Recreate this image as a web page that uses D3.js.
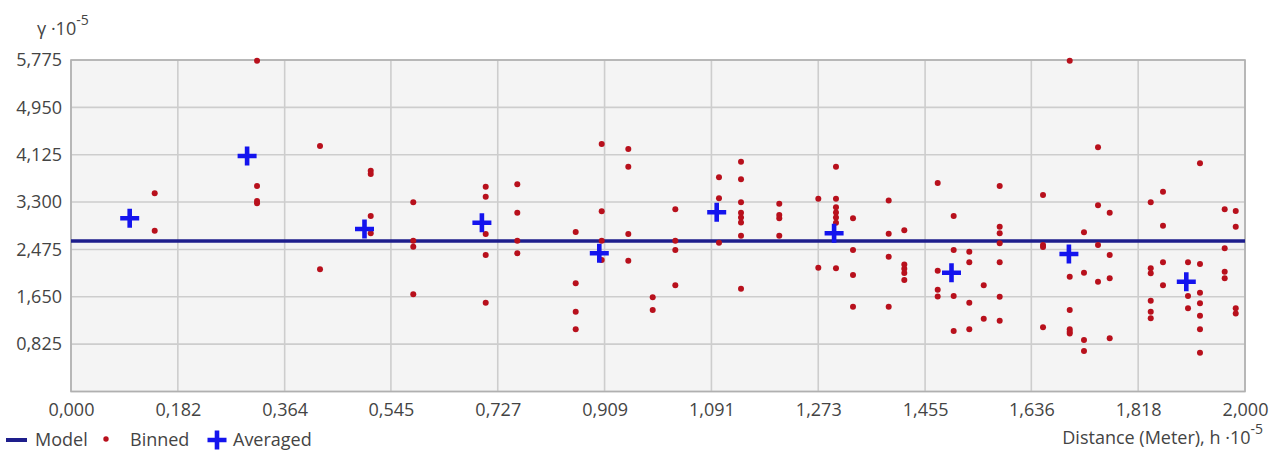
<!DOCTYPE html>
<html>
<head>
<meta charset="utf-8">
<script src="https://cdn.jsdelivr.net/npm/d3@7"></script>
<style>
  body { margin: 0; background: #fff; }
  text { font-family: "Open Sans", "DejaVu Sans", sans-serif; fill: #444; }
</style>
</head>
<body>
<div id="chart"></div>
<script>
// Data (values in units of 10^-5)
var xTicks = [0, 0.182, 0.364, 0.545, 0.727, 0.909, 1.091, 1.273, 1.455, 1.636, 1.818, 2.000];
var yTicks = [0, 0.825, 1.650, 2.475, 3.300, 4.125, 4.950, 5.775];
var model = 2.62;

var averagedX = [0.1, 0.3, 0.5, 0.7, 0.9, 1.1, 1.3, 1.5, 1.7, 1.9];
var averagedY = [3.017, 4.103, 2.831, 2.941, 2.408, 3.122, 2.756, 2.070, 2.395, 1.913];

var binned = [
  [0.1426, 3.453], [0.1426, 2.801],
  [0.3169, 5.763], [0.3169, 3.580], [0.3169, 3.279], [0.3169, 3.319],
  [0.4242, 4.277], [0.4242, 2.129],
  [0.5106, 3.847], [0.5106, 3.789], [0.5106, 3.057], [0.5106, 2.756],
  [0.5831, 3.296], [0.5831, 2.627], [0.5831, 2.523], [0.5831, 1.693],
  [0.7065, 3.568], [0.7065, 3.394], [0.7065, 2.744], [0.7065, 2.378], [0.7065, 1.547],
  [0.7603, 3.610], [0.7603, 3.115], [0.7603, 2.627], [0.7603, 2.408],
  [0.8598, 2.779], [0.8598, 1.885], [0.8598, 1.390], [0.8598, 1.084],
  [0.9041, 4.312], [0.9041, 3.139], [0.9041, 2.627], [0.9041, 2.291],
  [0.9494, 4.225], [0.9494, 3.916], [0.9494, 2.744], [0.9494, 2.279],
  [0.9910, 1.641], [0.9910, 1.420],
  [1.0295, 3.174], [1.0295, 2.627], [1.0295, 2.465], [1.0295, 1.850],
  [1.1039, 3.732], [1.1039, 3.366], [1.1039, 2.592],
  [1.1414, 4.003], [1.1414, 3.697], [1.1414, 3.296], [1.1414, 3.115], [1.1414, 3.031],
  [1.1414, 2.944], [1.1414, 2.714], [1.1414, 1.791],
  [1.2066, 3.272], [1.2066, 3.075], [1.2066, 3.017], [1.2066, 2.714],
  [1.2731, 3.359], [1.2731, 2.157],
  [1.3032, 3.916], [1.3032, 3.359], [1.3032, 3.209], [1.3032, 3.118], [1.3032, 3.031],
  [1.3032, 2.941], [1.3032, 2.146],
  [1.3322, 3.017], [1.3322, 2.465], [1.3322, 2.030], [1.3322, 1.477],
  [1.3930, 3.328], [1.3930, 2.749], [1.3930, 2.348], [1.3930, 1.477],
  [1.4196, 2.808], [1.4196, 2.213], [1.4196, 2.139], [1.4196, 2.064], [1.4196, 1.943],
  [1.4765, 3.632], [1.4765, 2.105], [1.4765, 1.774], [1.4765, 1.655],
  [1.5037, 3.057], [1.5037, 2.465], [1.5037, 1.664], [1.5037, 1.054],
  [1.5303, 2.436], [1.5303, 2.251], [1.5303, 1.547], [1.5303, 1.084],
  [1.5549, 1.850], [1.5549, 1.268],
  [1.5821, 3.580], [1.5821, 2.871], [1.5821, 2.756], [1.5821, 2.582], [1.5821, 2.251],
  [1.5821, 1.652], [1.5821, 1.233],
  [1.6559, 3.423], [1.6559, 2.552], [1.6559, 2.517], [1.6559, 1.118],
  [1.7014, 5.763], [1.7014, 2.000], [1.7014, 1.420], [1.7014, 1.084], [1.7014, 1.040], [1.7014, 1.010],
  [1.7257, 2.774], [1.7257, 2.070], [1.7257, 0.897], [1.7257, 0.706],
  [1.7496, 4.254], [1.7496, 3.244], [1.7496, 2.552], [1.7496, 1.913],
  [1.7695, 3.115], [1.7695, 2.378], [1.7695, 1.972], [1.7695, 0.927],
  [1.8394, 3.296], [1.8394, 2.146], [1.8394, 2.059], [1.8394, 1.582], [1.8394, 1.390], [1.8394, 1.275],
  [1.8603, 3.481], [1.8603, 2.889], [1.8603, 2.251], [1.8603, 1.850],
  [1.9029, 2.251], [1.9029, 1.664], [1.9029, 1.449],
  [1.9233, 3.976], [1.9233, 2.221], [1.9233, 1.721], [1.9233, 1.537], [1.9233, 1.321],
  [1.9233, 1.084], [1.9233, 0.676],
  [1.9654, 3.174], [1.9654, 2.495], [1.9654, 2.087], [1.9654, 1.972],
  [1.9842, 3.145], [1.9842, 2.871], [1.9842, 1.449], [1.9842, 1.359]
];

var width = 1272;
var height = 451;
var margin = { left: 71, right: 27, top: 60, bottom: 60 };
var fontSize = "18px";

var svg = d3.select("#chart")
            .append("svg")
            .attr("width", width)
            .attr("height", height);

var x = d3.scaleLinear().domain([0, 2]).range([margin.left, width - margin.right]);
var y = d3.scaleLinear().domain([0, 5.775]).range([height - margin.bottom + 0.5, margin.top]);

var fmt = function (d) { return d3.format(".3f")(d).replace(".", ","); };

// plot background
svg.append("rect")
   .attr("x", x(0))
   .attr("y", y(5.775))
   .attr("width", x(2) - x(0))
   .attr("height", y(0) - y(5.775))
   .attr("fill", "#f4f4f4");

// grid
svg.append("g")
   .selectAll("line")
   .data(yTicks)
   .enter()
      .append("line")
      .attr("x1", x(0)).attr("x2", x(2))
      .attr("y1", function (d) { return y(d); })
      .attr("y2", function (d) { return y(d); })
      .attr("stroke", "#cdcdcd")
      .attr("stroke-width", 1.6);

svg.append("g")
   .selectAll("line")
   .data(xTicks)
   .enter()
      .append("line")
      .attr("y1", y(0)).attr("y2", y(5.775))
      .attr("x1", function (d) { return x(d * 1.0); })
      .attr("x2", function (d) { return x(d * 1.0); })
      .attr("stroke", "#cdcdcd")
      .attr("stroke-width", 1.6);

// border
svg.append("rect")
   .attr("x", x(0))
   .attr("y", y(5.775))
   .attr("width", x(2) - x(0))
   .attr("height", y(0) - y(5.775))
   .attr("fill", "none")
   .attr("stroke", "#b0b0b0")
   .attr("stroke-width", 1.6);

// axes with the library, then restyle
var xAxis = d3.axisBottom(x).tickValues(xTicks).tickSize(0).tickPadding(12).tickFormat(fmt);
var yAxis = d3.axisLeft(y).tickValues(yTicks.slice(1)).tickSize(0).tickPadding(10).tickFormat(fmt);

var gx = svg.append("g").attr("transform", "translate(0," + y(0) + ")").call(xAxis);
var gy = svg.append("g").attr("transform", "translate(" + x(0) + ",0)").call(yAxis);
[gx, gy].forEach(function (g) {
    g.select(".domain").remove();
    g.selectAll("text")
     .style("font-family", "'Open Sans', 'DejaVu Sans', sans-serif")
     .style("font-size", fontSize)
     .attr("fill", "#444");
});
gy.selectAll("text").attr("x", -9);

// model line
svg.append("line")
   .attr("x1", x(0)).attr("x2", x(2))
   .attr("y1", y(model)).attr("y2", y(model))
   .attr("stroke", "#1e1e8c")
   .attr("stroke-width", 3.5);

// binned points
svg.append("g")
   .selectAll("circle")
   .data(binned)
   .enter()
      .append("circle")
      .attr("cx", function (d) { return x(d[0]); })
      .attr("cy", function (d) { return y(d[1]); })
      .attr("r", 3)
      .attr("fill", "#b8101c");

// averaged crosses
var cross = "M-9.5,-2.3H-2.3V-9.5H2.3V-2.3H9.5V2.3H2.3V9.5H-2.3V2.3H-9.5Z";
svg.append("g")
   .selectAll("path")
   .data(averagedX)
   .enter()
      .append("path")
      .attr("d", cross)
      .attr("transform", function (d, i) { return "translate(" + x(d) + "," + y(averagedY[i]) + ")"; })
      .attr("fill", "#1414ee");

// axis titles
var yt = svg.append("text").attr("x", 37).attr("y", 35).style("font-size", fontSize);
yt.append("tspan").text("\u03b3 \u00b710");
yt.append("tspan").attr("dy", -10).style("font-size", "14px").text("-5");

var xt = svg.append("text").attr("x", 1263).attr("y", 444).attr("text-anchor", "end").style("font-size", fontSize);
xt.append("tspan").text("Distance (Meter), h \u00b710");
xt.append("tspan").attr("dy", -10).style("font-size", "14px").text("-5");

// legend
var lg = svg.append("g").attr("transform", "translate(0,440)");
lg.append("line").attr("x1", 6).attr("x2", 27).attr("y1", 0).attr("y2", 0)
  .attr("stroke", "#1e1e8c").attr("stroke-width", 4);
lg.append("text").attr("x", 35).attr("y", 6).style("font-size", fontSize).text("Model");
lg.append("circle").attr("cx", 106).attr("cy", -1).attr("r", 2.7).attr("fill", "#b8101c");
lg.append("text").attr("x", 130).attr("y", 6).style("font-size", fontSize).text("Binned");
lg.append("path").attr("d", cross).attr("transform", "translate(217,0)").attr("fill", "#1414ee");
lg.append("text").attr("x", 233).attr("y", 6).style("font-size", fontSize).text("Averaged");
</script>
</body>
</html>
